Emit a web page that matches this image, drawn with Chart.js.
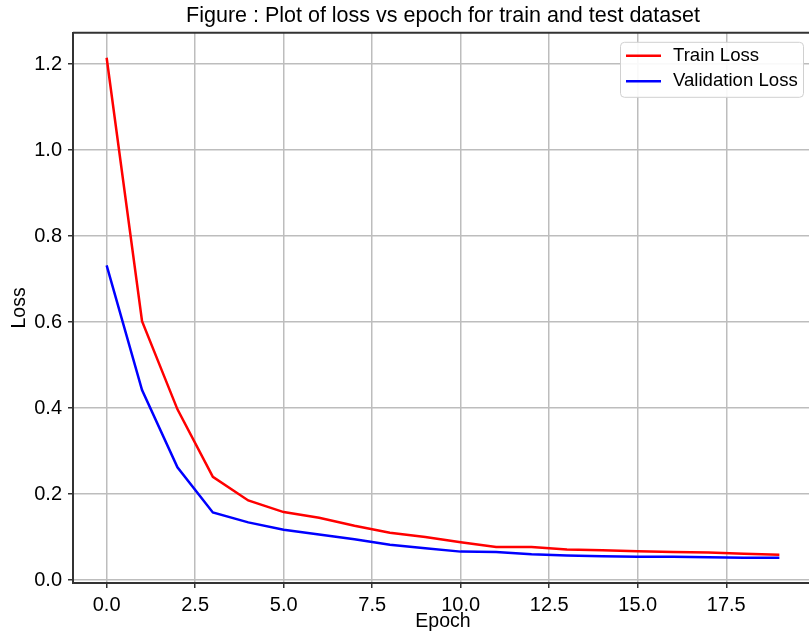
<!DOCTYPE html>
<html>
<head>
<meta charset="utf-8">
<script src="https://cdn.jsdelivr.net/npm/chart.js@4.4.0/dist/chart.umd.min.js"></script>
<style>
  html, body { margin: 0; padding: 0; background: #fff; overflow: hidden; }
  #wrap { width: 809px; height: 635px; overflow: hidden; }
</style>
</head>
<body>
<div id="wrap"><canvas id="lossChart" width="820" height="635"></canvas></div>
<script>
// Data
const epochs = [0, 1, 2, 3, 4, 5, 6, 7, 8, 9, 10, 11, 12, 13, 14, 15, 16, 17, 18, 19];
const trainLoss = [1.215, 0.602, 0.397, 0.240, 0.185, 0.158, 0.145, 0.126, 0.110, 0.100,
                   0.088, 0.077, 0.077, 0.071, 0.069, 0.067, 0.065, 0.064, 0.061, 0.059];
const valLoss = [0.732, 0.442, 0.262, 0.157, 0.134, 0.117, 0.106, 0.095, 0.082, 0.074,
                 0.066, 0.065, 0.060, 0.057, 0.055, 0.054, 0.054, 0.053, 0.052, 0.052];
const seriesNames = ["Train Loss", "Validation Loss"];
const seriesColors = ["#ff0000", "#0000ff"];

const FONT = "'Liberation Sans', Arial, Helvetica, sans-serif";
const spineColor = "#333333";
const gridColor = "#bdbdbd";

function toPoints(values) {
    return epochs.map((e, i) => ({ x: e, y: values[i] }));
}

// Top spine + matplotlib-style legend box
const framePlugin = {
    id: "framePlugin",
    afterDraw(chart) {
        const ctx = chart.ctx;
        const area = chart.chartArea;
        ctx.save();
        ctx.strokeStyle = spineColor;
        ctx.lineWidth = 2;
        ctx.beginPath();
        ctx.moveTo(area.left, area.top);
        ctx.lineTo(area.right, area.top);
        ctx.stroke();

        // legend
        const w = 183, h = 55;
        const x = 803 - w, y = area.top + 9;
        ctx.fillStyle = "rgba(255,255,255,0.9)";
        ctx.strokeStyle = "#d0d0d0";
        ctx.lineWidth = 1;
        ctx.beginPath();
        ctx.roundRect(x + 0.5, y + 0.5, w, h, 4);
        ctx.fill();
        ctx.stroke();

        ctx.font = "18.6px " + FONT;
        ctx.textBaseline = "middle";
        chart.data.datasets.forEach((ds, i) => {
            const cy = y + 14 + i * 25.5;
            ctx.strokeStyle = ds.borderColor;
            ctx.lineWidth = 2.5;
            ctx.beginPath();
            ctx.moveTo(x + 6, cy);
            ctx.lineTo(x + 41, cy);
            ctx.stroke();
            ctx.fillStyle = "#000";
            ctx.fillText(ds.label, x + 53, cy);
        });
        ctx.restore();
    }
};

const lossChart = new Chart(document.getElementById("lossChart").getContext("2d"), {
    type: "line",
    data: {
        datasets: [
            {
                label: seriesNames[0],
                data: toPoints(trainLoss),
                borderColor: seriesColors[0],
                backgroundColor: seriesColors[0],
                borderWidth: 2.5,
                pointRadius: 0,
                tension: 0,
                fill: false,
            },
            {
                label: seriesNames[1],
                data: toPoints(valLoss),
                borderColor: seriesColors[1],
                backgroundColor: seriesColors[1],
                borderWidth: 2.5,
                pointRadius: 0,
                tension: 0,
                fill: false,
            },
        ],
    },
    options: {
        responsive: false,
        animation: false,
        devicePixelRatio: 1,
        layout: { padding: { left: 0, right: 7, top: 0, bottom: 0 } },
        plugins: {
            legend: { display: false },
            tooltip: { enabled: false },
            title: {
                display: true,
                fullSize: false,
                text: "Figure : Plot of loss vs epoch for train and test dataset",
                color: "#000",
                font: { family: FONT, size: 21.5, weight: "normal" },
                padding: { top: 3, bottom: 4 },
            },
        },
        scales: {
            x: {
                type: "linear",
                min: -0.95,
                max: 19.95,
                afterFit: s => { s.height = 52; },
                border: { color: spineColor, width: 2 },
                grid: {
                    color: gridColor,
                    lineWidth: 1.5,
                    drawTicks: true,
                    tickLength: 5,
                    tickColor: spineColor,
                    tickWidth: 1.5,
                },
                ticks: {
                    stepSize: 2.5,
                    includeBounds: false,
                    maxRotation: 0,
                    autoSkip: false,
                    padding: 5,
                    color: "#000",
                    font: { family: FONT, size: 20 },
                    callback: v => v.toFixed(1),
                },
                title: {
                    display: true,
                    text: "Epoch",
                    color: "#000",
                    font: { family: FONT, size: 19.5 },
                    padding: { top: 0, bottom: 2 },
                },
            },
            y: {
                min: -0.007,
                max: 1.273,
                afterFit: s => { s.width = 73; },
                border: { color: spineColor, width: 2 },
                grid: {
                    color: gridColor,
                    lineWidth: 1.5,
                    drawTicks: true,
                    tickLength: 5,
                    tickColor: spineColor,
                    tickWidth: 1.5,
                },
                ticks: {
                    stepSize: 0.2,
                    includeBounds: false,
                    padding: 6,
                    color: "#000",
                    font: { family: FONT, size: 20 },
                    callback: v => v.toFixed(1),
                },
                title: {
                    display: true,
                    text: "Loss",
                    color: "#000",
                    font: { family: FONT, size: 19.5 },
                    padding: { top: 8, bottom: 0 },
                },
            },
        },
    },
    plugins: [framePlugin],
});
</script>
</body>
</html>
